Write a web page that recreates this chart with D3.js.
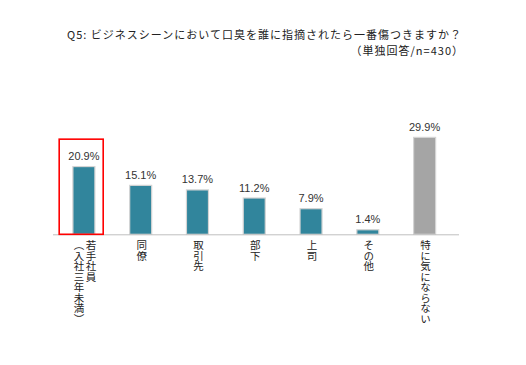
<!DOCTYPE html>
<html>
<head>
<meta charset="utf-8">
<script src="https://cdnjs.cloudflare.com/ajax/libs/d3/7.8.5/d3.min.js"></script>
<style>
  body { margin: 0; background: #fff; }
  svg { display: block; }
</style>
</head>
<body>
<div id="chart"></div>
<script>
// data
var titleLines = ["Q5: ビジネスシーンにおいて口臭を誰に指摘されたら一番傷つきますか？", "（単独回答/n=430）"];
var categories = ["若手社員\n（入社三年未満）", "同僚", "取引先", "部下", "上司", "その他", "特に気にならない"];
var values = [20.9, 15.1, 13.7, 11.2, 7.9, 1.4, 29.9];
var highlighted = "若手社員\n（入社三年未満）";
var neutral = "特に気にならない";

var W = 526, H = 365;
var jp = "'Noto Sans CJK JP', sans-serif";

var svg = d3.select("#chart")
    .append("svg")
    .attr("width", W)
    .attr("height", H);

// title
svg.selectAll(".title")
    .data(titleLines)
    .enter()
    .append("text")
    .attr("class", "title")
    .attr("x", function (d, i) { return i == 0 ? 462 : 464; })
    .attr("y", function (d, i) { return 38.5 + i * 16; })
    .attr("text-anchor", "end")
    .style("font-family", jp)
    .style("font-size", "11px")
    .style("letter-spacing", "1px")
    .style("fill", "#222")
    .text(function (d) { return d; });

// scales
var x = d3.scalePoint()
    .domain(categories)
    .range([55.5, 453])
    .padding(0.5);
var barW = 22;

var y = d3.scaleLinear()
    .domain([0, 29.9])
    .range([234.3, 137.4]);

// bars
svg.selectAll(".bar")
    .data(values)
    .enter()
    .append("rect")
    .attr("class", "bar")
    .attr("x", function (d, i) { return x(categories[i]) - barW / 2; })
    .attr("y", function (d) { return y(d); })
    .attr("width", barW)
    .attr("height", function (d) { return y(0) - y(d); })
    .style("fill", function (d, i) { return categories[i] == neutral ? "#a5a5a5" : "#31859c"; })
    .style("stroke", "#d4d4d4")
    .style("stroke-width", 1.2);

// axis line
svg.append("line")
    .attr("x1", x.range()[0] - 2.5)
    .attr("x2", x.range()[1] + 6)
    .attr("y1", y(0) + 0.5)
    .attr("y2", y(0) + 0.5)
    .style("stroke", "#bfbfbf")
    .style("stroke-width", 1);

// value labels
svg.selectAll(".val")
    .data(values)
    .enter()
    .append("text")
    .attr("class", "val")
    .attr("x", function (d, i) { return x(categories[i]); })
    .attr("y", function (d) { return y(d) - 6.5; })
    .attr("text-anchor", "middle")
    .style("font-family", "'Liberation Sans', Arial, sans-serif")
    .style("font-size", "11px")
    .style("fill", "#333")
    .text(function (d) { return d.toFixed(1) + "%"; });

// category labels (vertical)
categories.forEach(function (c) {
    var lines = c.split("\n");
    lines.forEach(function (ln, j) {
        svg.append("text")
            .attr("x", x(c) + (lines.length - 1) * 6 - j * 12 + 1)
            .attr("y", 240)
            .style("writing-mode", "vertical-rl")
            .style("font-family", jp)
            .style("font-size", "10.5px")
            .style("fill", "#222")
            .text(ln);
    });
});

// highlight box
svg.append("rect")
    .attr("x", x(highlighted) - 24.7)
    .attr("y", y(values[categories.indexOf(highlighted)]) - 27.4)
    .attr("width", 44)
    .attr("height", y(0) - y(values[categories.indexOf(highlighted)]) + 27.4)
    .style("fill", "none")
    .style("stroke", "#ff0000")
    .style("stroke-width", 1.6);
</script>
</body>
</html>
